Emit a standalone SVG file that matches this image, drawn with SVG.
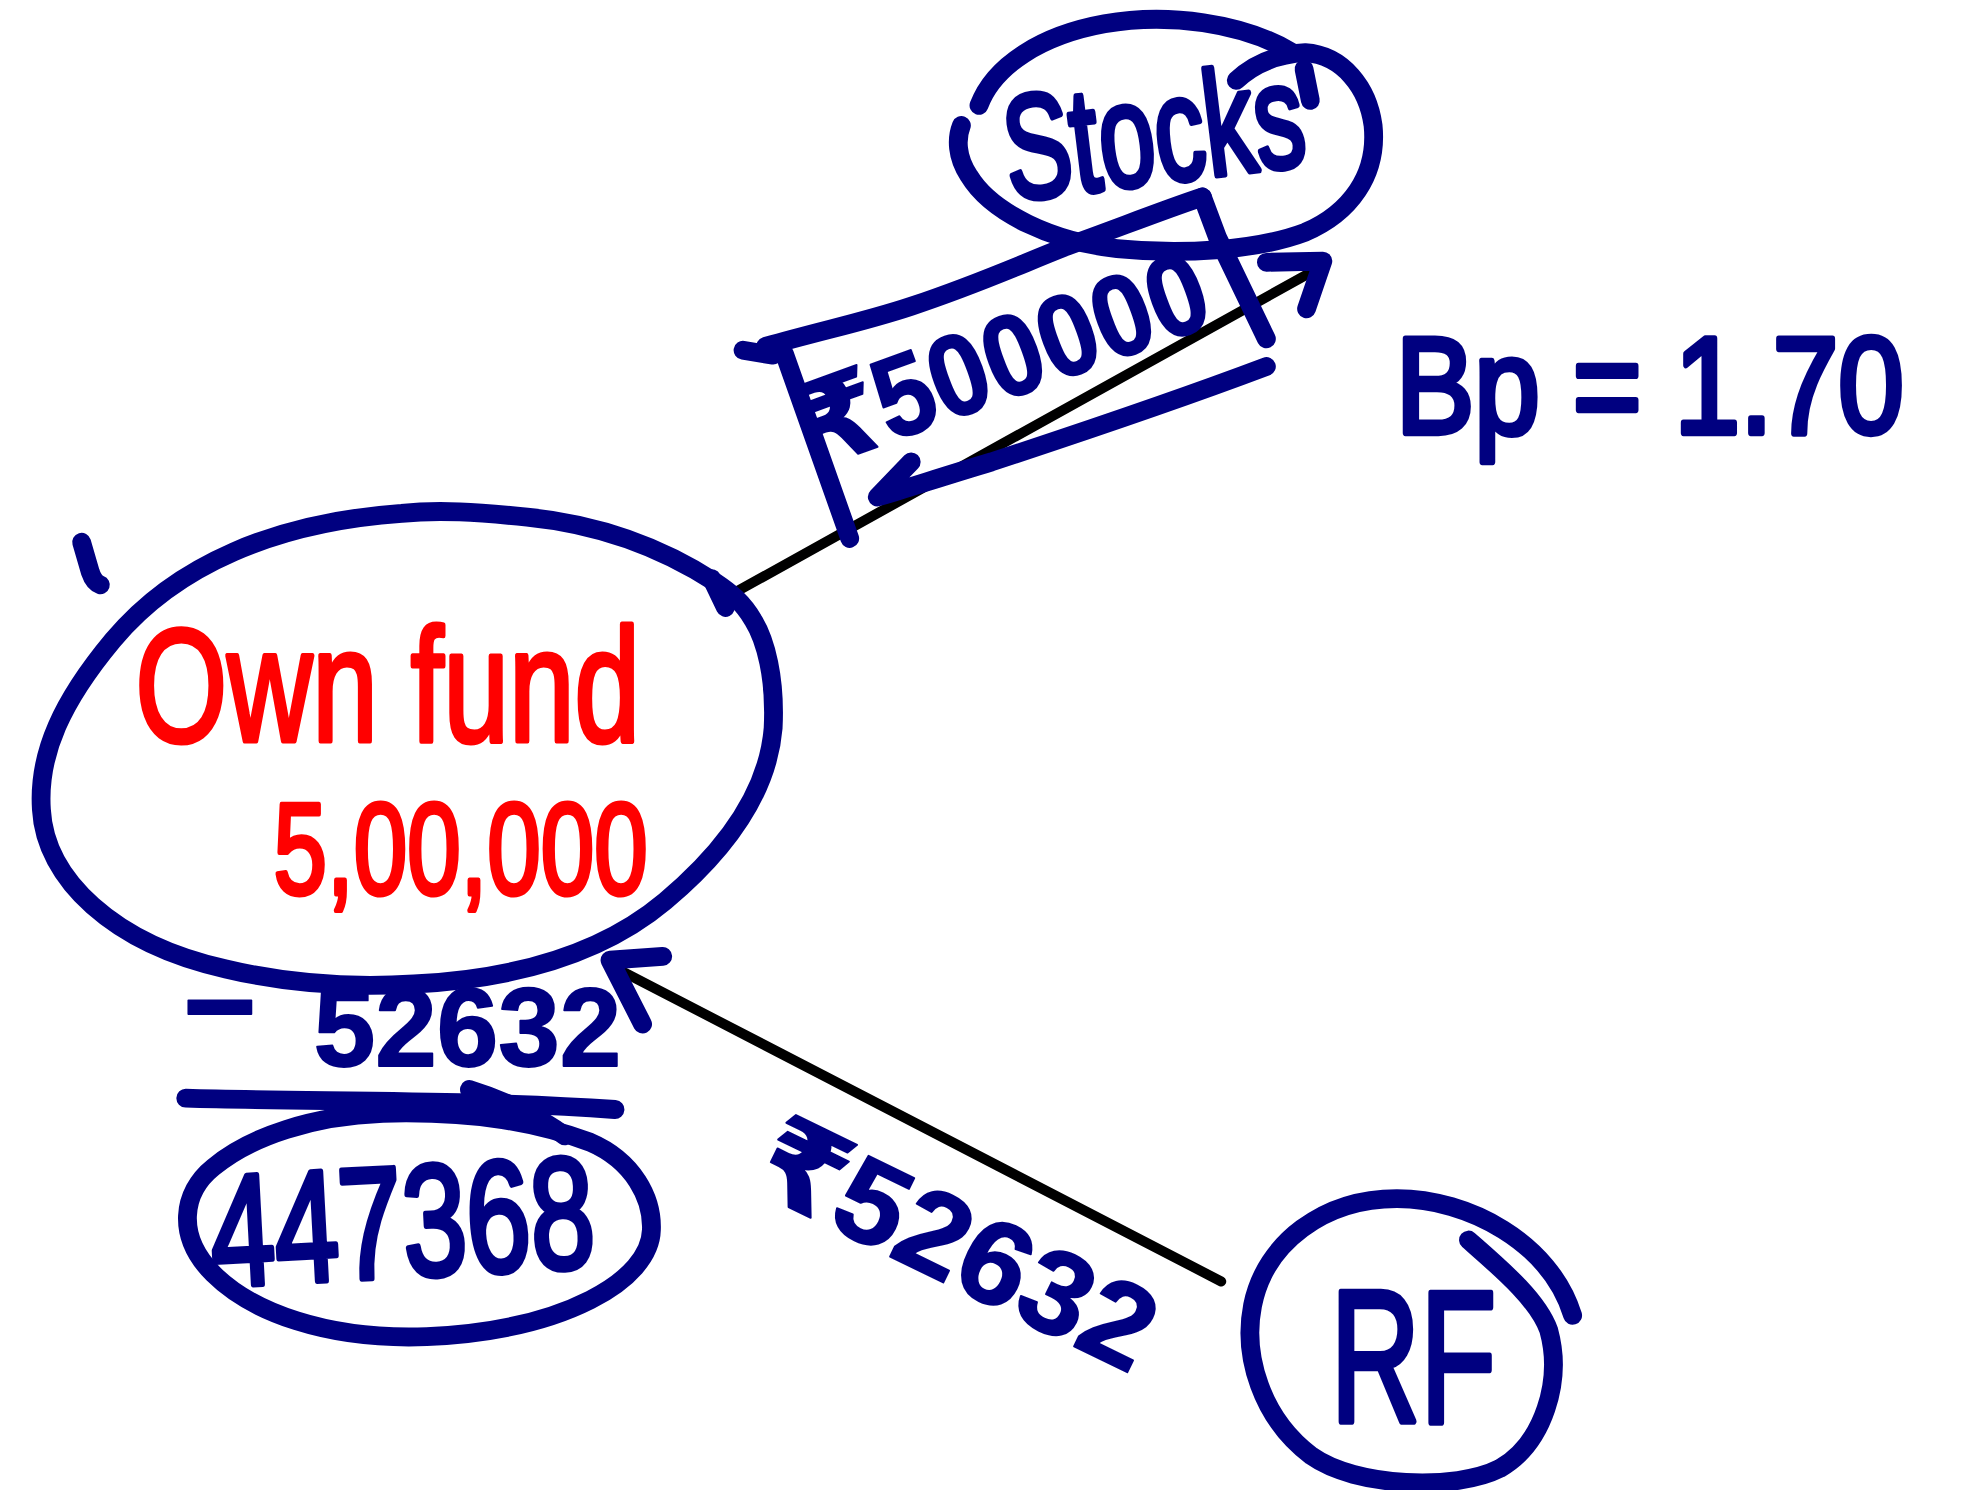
<svg xmlns="http://www.w3.org/2000/svg" width="1968" height="1490" viewBox="0 0 1968 1490">
  <style>
    .pen { fill: none; stroke: #000080; stroke-width: 15; stroke-linecap: round; stroke-linejoin: round; }
    .wire { fill: none; stroke: #000000; stroke-width: 8; stroke-linecap: round; }
    .ink { fill: #000080; font-family: "Liberation Sans", "DejaVu Sans", sans-serif; stroke: #000080; stroke-width: 5; stroke-linejoin: round; }
    .ink-b { fill: #000080; font-family: "Liberation Sans", "DejaVu Sans", sans-serif; font-weight: bold; stroke: #000080; stroke-width: 1.5; stroke-linejoin: round; }
    .red { fill: #ff0000; font-family: "Liberation Sans", "DejaVu Sans", sans-serif; stroke: #ff0000; stroke-width: 4; stroke-linejoin: round; }
  </style>
  <rect width="1968" height="1490" fill="#ffffff"/>
  <!-- drawing is laid out on a 1568-wide grid and scaled up to the canvas -->
  <g transform="scale(1.2551)">

    <!-- connectors -->
    <g id="connectors">
      <!-- own fund -> stocks -->
      <path class="wire" d="M 582,474 L 1048,215"/>
      <path class="pen" d="M 1009,209 L 1054,208 L 1041,246"/>
      <path class="pen" d="M 567,461 L 578,484"/>
      <!-- rf -> own fund -->
      <path class="wire" d="M 492,772 L 973,1021"/>
      <path class="pen" d="M 528,762 L 486,765 L 512,816"/>
    </g>

    <!-- amount invested in stocks, boxed -->
    <g id="label-stocks-amount">
      <path class="pen" d="M 592,279 L 616,283"/>
      <path class="pen" d="M 610,276 C 660,262 690,256 726,244 C 780,226 810,212 848,197 C 890,182 925,168 958,157"/>
      <path class="pen" d="M 625,282 L 677,429"/>
      <path class="pen" d="M 958,157 L 970,189 L 1009,270"/>
      <path class="pen" d="M 1009,292 C 940,318 860,345 790,368 C 750,380 720,390 699,396 L 726,368"/>
      <text class="ink-b" x="655" y="372" font-size="92" textLength="335" lengthAdjust="spacingAndGlyphs" transform="rotate(-20 655 372)">₹500000</text>
    </g>

    <!-- Own fund node -->
    <g id="node-own-fund">
      <path class="pen" d="M 570,464 C 530,438 480,418 420,412 C 380,408 350,406 320,409 C 220,416 140,450 90,510 C 50,558 30,600 33,645 C 36,700 90,752 180,772 C 230,784 280,787 330,784 C 410,780 480,760 530,718 C 580,676 612,630 616,580 C 618,540 610,510 600,494 C 592,480 582,472 570,464 Z"/>
      <path class="pen" d="M 65,432 L 72,456 C 74,462 77,465 80,466"/>
      <text class="red" x="108" y="590" font-size="128" textLength="402" lengthAdjust="spacingAndGlyphs">Own fund</text>
      <text class="red" x="218" y="712" font-size="104" textLength="298" lengthAdjust="spacingAndGlyphs">5,00,000</text>
    </g>

    <!-- Stocks node -->
    <g id="node-stocks">
      <path class="pen" d="M 780,84 C 792,52 830,28 880,19 C 930,10 990,18 1030,42"/>
      <path class="pen" d="M 985,64 C 1000,50 1020,43 1040,42 C 1070,44 1090,70 1094,100 C 1098,140 1075,170 1040,185 C 1000,200 940,203 890,198 C 840,193 790,170 772,140 C 762,125 762,110 766,100"/>
      <path class="pen" d="M 1039,55 L 1044,80"/>
      <text class="ink" x="805" y="160" font-size="118" textLength="240" lengthAdjust="spacingAndGlyphs" transform="rotate(-7 805 160)">Stocks</text>
    </g>

    <!-- beta of the stock position -->
    <g id="label-bp">
      <text class="ink" x="1112" y="345" font-size="110" textLength="405" lengthAdjust="spacingAndGlyphs">Bp = 1.70</text>
    </g>

    <!-- amount moved to the risk-free asset -->
    <g id="label-rf-amount">
      <text class="ink-b" x="596" y="946" font-size="94" textLength="340" lengthAdjust="spacingAndGlyphs" transform="rotate(26 596 946)">₹52632</text>
    </g>

    <!-- RF node -->
    <g id="node-rf">
      <path class="pen" d="M 1170,988 C 1195,1010 1225,1035 1234,1060 C 1245,1100 1230,1150 1195,1170 C 1160,1188 1080,1185 1045,1160 C 1005,1130 990,1080 998,1040 C 1008,990 1055,955 1113,955 C 1170,955 1235,990 1253,1048"/>
      <text class="ink" x="1060" y="1133" font-size="150" textLength="132" lengthAdjust="spacingAndGlyphs">RF</text>
    </g>

    <!-- subtraction and remaining own fund -->
    <g id="node-remaining">
      <text class="ink-b" x="146" y="836" font-size="100">−</text>
      <text class="ink-b" x="250" y="849" font-size="88" textLength="245" lengthAdjust="spacingAndGlyphs">52632</text>
      <path class="pen" d="M 148,875 C 250,878 380,876 490,884" stroke-width="17"/>
      <path class="pen" d="M 374,868 C 400,876 430,890 450,905"/>
      <path class="pen" d="M 305,887 C 380,885 430,895 470,910 C 505,925 520,955 519,980 C 518,1020 450,1060 340,1065 C 260,1068 200,1045 170,1015 C 140,985 145,950 170,930 C 200,905 250,889 305,887 Z"/>
      <text class="ink" x="170" y="1025" font-size="126" textLength="306" lengthAdjust="spacingAndGlyphs" transform="rotate(-3 170 1025)">447368</text>
    </g>
  </g>
</svg>
